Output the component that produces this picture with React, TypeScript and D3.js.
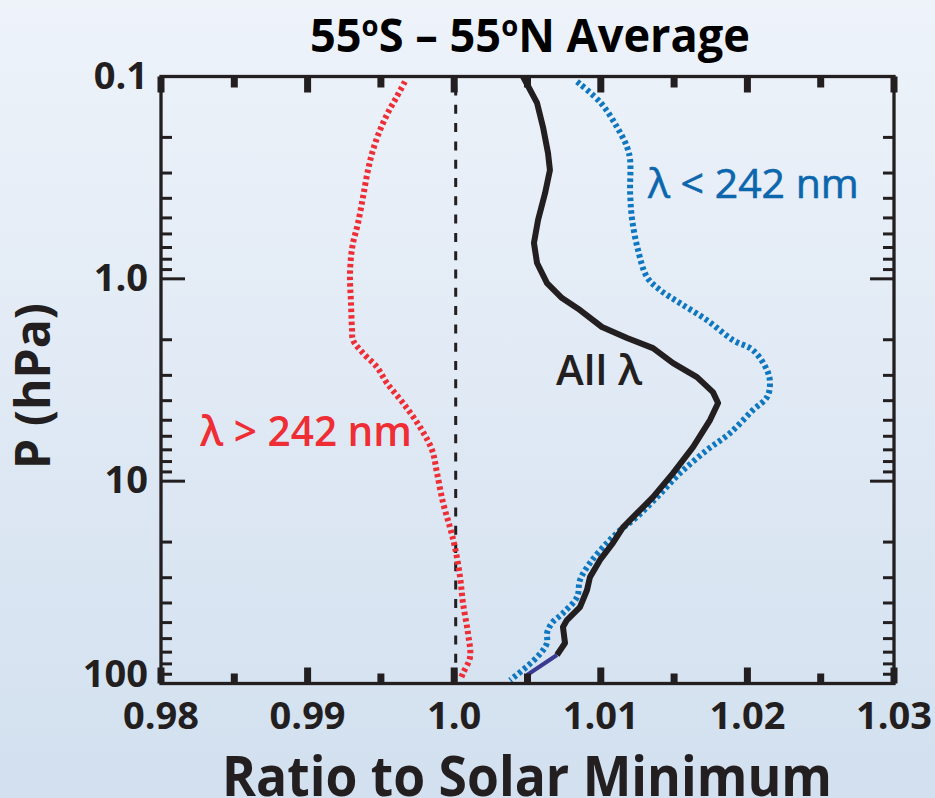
import React from "react";
import * as d3 from "d3";

type Pt = [number, number]; // [ratio, pressure hPa]

const xTickLabels = ["0.98", "0.99", "1.0", "1.01", "1.02", "1.03"];
const xTickValues = [0.98, 0.99, 1.0, 1.01, 1.02, 1.03];
const xMinorValues = [0.985, 0.995, 1.005, 1.015, 1.025];
const yTickValues = [0.1, 1, 10, 100];
const yTickLabels = ["0.1", "1.0", "10", "100"];

const allLambda: Pt[] = [
  [1.00469, 0.1], [1.00565, 0.135], [1.00606, 0.178], [1.0064, 0.239], [1.00653, 0.29],
  [1.0062, 0.377], [1.00572, 0.512], [1.00544, 0.665], [1.00565, 0.835], [1.00633, 1.05],
  [1.00735, 1.245], [1.00858, 1.427], [1.01008, 1.73], [1.01179, 1.96], [1.01356, 2.2],
  [1.01493, 2.61], [1.01656, 3.06], [1.01765, 3.63], [1.018, 4.11], [1.01745, 4.99],
  [1.01629, 6.79], [1.01493, 9.13], [1.01356, 12.0], [1.01247, 14.4], [1.01151, 16.9],
  [1.01083, 20.2], [1.00995, 24.5], [1.00926, 29.8], [1.00906, 34.5], [1.00858, 41.9],
  [1.00769, 48.6], [1.00742, 52.6], [1.00756, 63.1], [1.00701, 72.3],
];
const allLambdaTail: Pt[] = [[1.00701, 72.3], [1.00497, 90.8]];

const shortWave: Pt[] = [
  [1.00838, 0.106], [1.01, 0.135], [1.01111, 0.178], [1.01179, 0.223], [1.012, 0.259],
  [1.012, 0.377], [1.01214, 0.512], [1.01254, 0.721], [1.01315, 0.98], [1.01404, 1.135],
  [1.0154, 1.318], [1.01724, 1.6], [1.01902, 2.01], [1.02038, 2.25], [1.02134, 2.83],
  [1.02154, 3.28], [1.02134, 3.84], [1.02038, 4.45], [1.01881, 5.79], [1.01724, 7.02],
  [1.0154, 9.13], [1.01383, 12.0], [1.01247, 15.0], [1.01131, 17.5], [1.01042, 20.2],
  [1.00926, 25.4], [1.00858, 30.8], [1.00838, 37.4], [1.00742, 44.9], [1.00667, 50.2],
  [1.00633, 56.4], [1.00633, 63.1], [1.00565, 74.1], [1.00381, 96.4],
];

const longWave: Pt[] = [
  [0.99664, 0.106], [0.99608, 0.126], [0.99548, 0.151], [0.99494, 0.184], [0.99446, 0.231],
  [0.99412, 0.29], [0.99378, 0.394], [0.99344, 0.53], [0.9931, 0.665], [0.99296, 0.78],
  [0.99289, 0.98], [0.99296, 1.318], [0.99303, 1.79], [0.9931, 2.01], [0.99378, 2.33],
  [0.99473, 2.73], [0.99542, 3.28], [0.99651, 4.11], [0.99767, 5.41], [0.99849, 7.02],
  [0.99883, 9.13], [0.99924, 12.8], [0.99971, 16.9], [1.00005, 21.2], [1.0004, 29.8],
  [1.0006, 40.1], [1.00094, 56.4], [1.00108, 74.1], [1.0006, 88.9], [1.00046, 94],
];

const W = 935;
const H = 798;
const L = 161, R = 894, T = 76.5, B = 683.5;
const INK = "#231f20";
const FONT = "'Open Sans', 'DejaVu Sans', sans-serif";

export default function App() {
  const x = d3.scaleLinear().domain([0.98, 1.03]).range([L, R]);
  const y = d3.scaleLog().domain([0.1, 100]).range([T, B]);

  const lineLin = d3.line<Pt>().x(d => x(d[0])).y(d => y(d[1])).curve(d3.curveLinear);
  const lineSmooth = d3.line<Pt>().x(d => x(d[0])).y(d => y(d[1])).curve(d3.curveCatmullRom.alpha(0.5));

  const yMinor: number[] = [];
  [0.1, 1, 10].forEach(dec => {
    for (let k = 2; k <= 9; k++) yMinor.push(dec * k);
  });

  return (
    <svg width={W} height={H} style={{ position: "absolute", left: 0, top: 0 }} xmlns="http://www.w3.org/2000/svg">
      <defs>
        <linearGradient id="bg" x1="0" y1="0" x2="0" y2="1">
          <stop offset="0" stopColor="#eef3fa" />
          <stop offset="1" stopColor="#d2e0ef" />
        </linearGradient>
      </defs>
      <rect x={0} y={0} width={W} height={H} fill="url(#bg)" />

      {/* title */}
      <text x={530} y={52} textAnchor="middle" fontFamily={FONT} fontWeight={700} fontSize={46} fill="#000" textLength={440} lengthAdjust="spacingAndGlyphs">
        55<tspan dy={-16} fontSize={28}>o</tspan><tspan dy={16}>S – 55</tspan><tspan dy={-16} fontSize={28}>o</tspan><tspan dy={16}>N Average</tspan>
      </text>

      {/* dashed reference at 1.0 */}
      <line x1={x(1.0) + 1.5} x2={x(1.0) + 1.5} y1={T + 10} y2={B - 2} stroke={INK} strokeWidth={3} strokeDasharray="9 9.3" />

      {/* curves */}
      <path d={lineSmooth(longWave) || ""} fill="none" stroke="#ee2e34" strokeWidth={6} strokeDasharray="3.4 3" />
      <path d={lineSmooth(shortWave) || ""} fill="none" stroke="#0f77c0" strokeWidth={6} strokeDasharray="3.4 3" />
      <path d={lineLin(allLambda) || ""} fill="none" stroke={INK} strokeWidth={6} strokeLinejoin="round" />
      <path d={lineLin(allLambdaTail) || ""} fill="none" stroke="#3a3a92" strokeWidth={4} />

      {/* frame */}
      <rect x={L} y={T} width={R - L} height={B - T} fill="none" stroke={INK} strokeWidth={3.3} />

      {/* x ticks top & bottom */}
      {xTickValues.map(v => (
        <g key={"xt" + v}>
          <line x1={x(v)} x2={x(v)} y1={B} y2={B - 16} stroke={INK} strokeWidth={7} />
          <line x1={x(v)} x2={x(v)} y1={T} y2={T + 16} stroke={INK} strokeWidth={7} />
        </g>
      ))}
      {xMinorValues.map(v => (
        <g key={"xm" + v}>
          <line x1={x(v)} x2={x(v)} y1={B} y2={B - 10} stroke={INK} strokeWidth={7} />
          <line x1={x(v)} x2={x(v)} y1={T} y2={T + 11} stroke={INK} strokeWidth={7} />
        </g>
      ))}

      {/* y ticks left & right */}
      {yTickValues.map(v => (
        <g key={"yt" + v}>
          <line x1={L} x2={L + 24} y1={y(v)} y2={y(v)} stroke={INK} strokeWidth={3} />
          <line x1={R} x2={R - 24} y1={y(v)} y2={y(v)} stroke={INK} strokeWidth={3} />
        </g>
      ))}
      {yMinor.map(v => (
        <g key={"ym" + v}>
          <line x1={L} x2={L + 11} y1={y(v)} y2={y(v)} stroke={INK} strokeWidth={3} />
          <line x1={R} x2={R - 11} y1={y(v)} y2={y(v)} stroke={INK} strokeWidth={3} />
        </g>
      ))}

      {/* x tick labels */}
      {xTickValues.map((v, i) => (
        <text key={"xl" + v} x={x(v)} y={729} textAnchor="middle" fontFamily={FONT} fontWeight={700} fontSize={38} fill={INK}>
          {xTickLabels[i]}
        </text>
      ))}
      {/* y tick labels */}
      {yTickValues.map((v, i) => (
        <text key={"yl" + v} x={148} y={y(v) + (i === yTickValues.length - 1 ? 3 : 12)} textAnchor="end" fontFamily={FONT} fontWeight={700} fontSize={38} fill={INK}>
          {yTickLabels[i]}
        </text>
      ))}

      {/* axis titles */}
      <text x={527} y={796} textAnchor="middle" fontFamily={FONT} fontWeight={700} fontSize={55} fill={INK} textLength={610} lengthAdjust="spacingAndGlyphs">
        Ratio to Solar Minimum
      </text>
      <text transform={`translate(50,386) rotate(-90)`} textAnchor="middle" fontFamily={FONT} fontWeight={700} fontSize={48} fill={INK}>
        P (hPa)
      </text>

      {/* annotations */}
      <text x={648} y={198} fontFamily={FONT} fontWeight={400} fontSize={41} fill="#0c66ae" stroke="#0c66ae" strokeWidth={0.6}>
        λ &lt; 242 nm
      </text>
      <text x={556} y={385} fontFamily={FONT} fontWeight={600} fontSize={42} fill={INK}>
        All λ
      </text>
      <text x={200} y={446} fontFamily={FONT} fontWeight={600} fontSize={41} fill="#ee2e34" textLength={212} lengthAdjust="spacingAndGlyphs">
        λ &gt; 242 nm
      </text>
    </svg>
  );
}
